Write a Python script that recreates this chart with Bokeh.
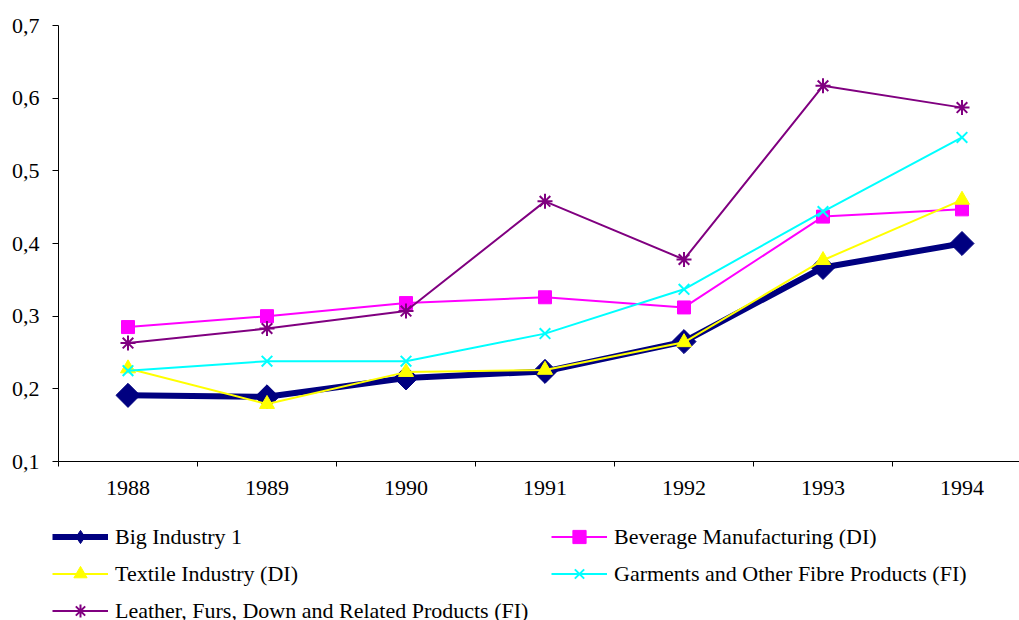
import math
from bokeh.plotting import figure
from bokeh.models import Range1d, FixedTicker, Legend, LegendItem
from bokeh.embed import file_html
from bokeh.resources import INLINE

years = ["1988", "1989", "1990", "1991", "1992", "1993", "1994"]
big_industry = [0.191, 0.189, 0.215, 0.224, 0.265, 0.367, 0.400]
beverage = [0.285, 0.300, 0.318, 0.326, 0.312, 0.437, 0.447]
textile = [0.228, 0.179, 0.223, 0.226, 0.264, 0.377, 0.460]
garments = [0.225, 0.238, 0.238, 0.276, 0.337, 0.444, 0.546]
leather = [0.263, 0.283, 0.307, 0.458, 0.378, 0.617, 0.587]
y_ticks = [0.1, 0.2, 0.3, 0.4, 0.5, 0.6, 0.7]
y_tick_labels = ["0,1", "0,2", "0,3", "0,4", "0,5", "0,6", "0,7"]

series_labels = ["Big Industry 1", "Beverage Manufacturing (DI)", "Textile Industry (DI)",
                 "Garments and Other Fibre Products (FI)",
                 "Leather, Furs, Down and Related Products (FI)"]

FONT = "Liberation Serif"
FS = "22px"

x = list(range(len(years)))

p = figure(width=1019, height=520, output_backend="svg", toolbar_location=None,
           x_range=Range1d(-0.5, -0.5 + 961 / 139), y_range=Range1d(0.1, 0.7),
           min_border_left=58, min_border_right=0, min_border_top=25, min_border_bottom=59)
p.outline_line_color = None
p.xgrid.visible = False
p.ygrid.visible = False
p.background_fill_color = "white"
p.border_fill_color = "white"

# x axis: labels centred, ticks between categories
p.xaxis.ticker = FixedTicker(ticks=x, minor_ticks=[i - 0.5 for i in x] + [x[-1] + 0.5])
p.xaxis.major_label_overrides = {i: yr for i, yr in zip(x, years)}
p.xaxis.major_tick_out = 5
p.xaxis.major_tick_in = 0
p.xaxis.major_tick_line_color = None
p.xaxis.minor_tick_out = 5
p.xaxis.minor_tick_in = 0
p.xaxis.major_label_standoff = 14

p.yaxis.ticker = FixedTicker(ticks=y_ticks, minor_ticks=[])
p.yaxis.major_label_overrides = {t: l for t, l in zip(y_ticks, y_tick_labels)}
p.yaxis.major_tick_out = 6
p.yaxis.major_tick_in = 0
p.yaxis.minor_tick_out = 0
p.yaxis.major_label_standoff = 13
p.yaxis.major_tick_line_color = "black"

for ax in (p.xaxis, p.yaxis):
    ax.major_label_text_font = FONT
    ax.major_label_text_font_size = FS
    ax.major_label_text_color = "black"
    ax.axis_line_color = "black"
    ax.minor_tick_line_color = "black"

# legend figure (below the chart); its ranges keep the proxy glyphs out of view
lf = figure(width=1019, height=100, output_backend="svg", toolbar_location=None,
            x_range=Range1d(100, 101), y_range=Range1d(100, 101),
            x_axis_type=None, y_axis_type=None,
            min_border_left=0, min_border_right=0, min_border_top=0, min_border_bottom=0)
lf.outline_line_color = None
lf.xgrid.visible = False
lf.ygrid.visible = False
lf.background_fill_color = "white"
lf.border_fill_color = "white"

styles = [
    dict(color="#000080", width=6, marker="square", angle=math.pi / 4, size=17, fill=True,
         lmarker="diamond", langle=0),
    dict(color="#FF00FF", width=2, marker="square", angle=0, size=13, fill=True,
         lmarker="square", langle=0),
    dict(color="#FFFF00", width=2, marker="triangle", angle=0, size=15, fill=True,
         lmarker="triangle", langle=0),
    dict(color="#00FFFF", width=2, marker="x", angle=0, size=15, fill=False,
         lmarker="x", langle=0),
    dict(color="#800080", width=2, marker="asterisk", angle=0, size=15, fill=False,
         lmarker="asterisk", langle=0),
]
series = [big_industry, beverage, textile, garments, leather]

items = []
for label, vals, st in zip(series_labels, series, styles):
    mw = 1 if st["fill"] else 2
    p.line(x, vals, line_color=st["color"], line_width=st["width"])
    p.scatter(x, vals, marker=st["marker"], angle=st["angle"], size=st["size"],
              fill_color=st["color"], line_color=st["color"], line_width=mw)
    ll = lf.line(x, vals, line_color=st["color"], line_width=st["width"])
    ls = lf.scatter(x, vals, marker=st["lmarker"], angle=st["langle"], size=st["size"],
                    fill_color=st["color"], line_color=st["color"], line_width=mw)
    items.append(LegendItem(label=label, renderers=[ll, ls]))

common = dict(label_text_font=FONT, label_text_font_size=FS, label_text_color="black",
              glyph_width=56, glyph_height=33, label_height=33, label_standoff=7,
              spacing=4, padding=0, margin=0, border_line_alpha=0,
              background_fill_alpha=0, orientation="vertical")

legend_left = Legend(items=[items[0], items[2], items[4]], location=(52, -7), **common)
legend_right = Legend(items=[items[1], items[3]], location=(551, 30), **common)
lf.add_layout(legend_left, "center")
lf.add_layout(legend_right, "center")

open("out.html", "w").write(file_html([p, lf], INLINE))
